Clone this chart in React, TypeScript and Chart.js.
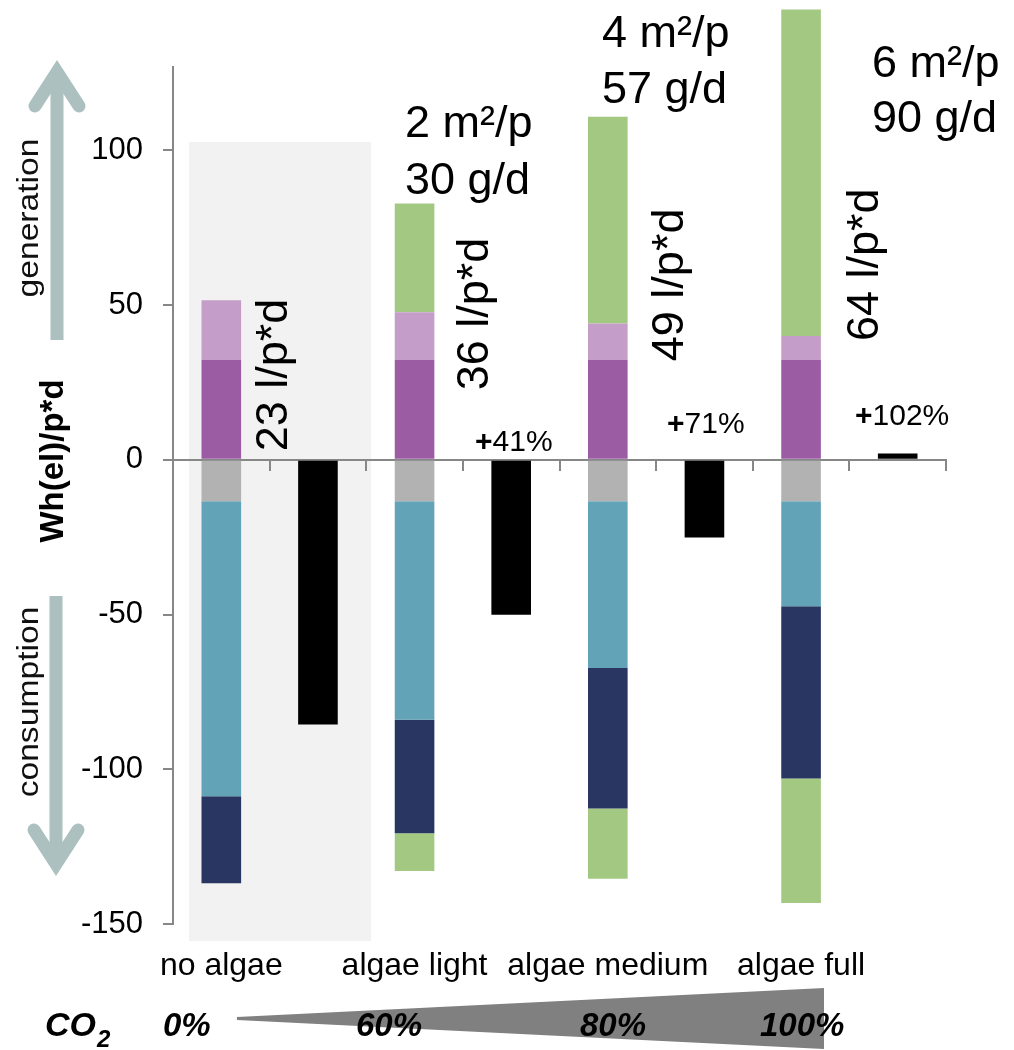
import React, { useEffect, useRef } from 'react';
import { Chart, registerables } from 'chart.js';

Chart.register(...registerables);

const FONT = "'Liberation Sans', Arial, Helvetica, sans-serif";

// ---------- data ----------
const categories = ['no algae', '', 'algae light', '', 'algae medium', '', 'algae full', ''];
const ownGeneration = [32.2, null, 32.2, null, 32.2, null, 32.2, null];
const extraGeneration = [19.3, null, 15.5, null, 11.8, null, 7.8, null];
const algaeGeneration = [null, null, 35.1, null, 66.8, null, 105.5, null];
const baseConsumption = [-13.4, null, -13.4, null, -13.4, null, -13.4, null];
const mainConsumption = [-95.3, null, -70.6, null, -53.9, null, -33.9, null];
const secondConsumption = [-28.1, null, -36.7, null, -45.4, null, -55.7, null];
const algaeConsumption = [null, null, -12.2, null, -22.7, null, -40.2, null];
const netBalance = [null, -85.5, null, -50.1, null, -25.1, null, 2.0];
const yTickValues = [-150, -100, -50, 0, 50, 100];
const waterLabels = ['23 l/p*d', '36 l/p*d', '49 l/p*d', '64 l/p*d'];
const areaLabels = [['2 m²/p', '30 g/d'], ['4 m²/p', '57 g/d'], ['6 m²/p', '90 g/d']];
const gainLabels = ['+41%', '+71%', '+102%'];
const co2Labels = ['0%', '60%', '80%', '100%'];

// ---------- layout of annotations (pixels / value positions) ----------
const waterPos = [
  { cat: 0, dx: 66, yVal: 27.4 },
  { cat: 2, dx: 73, yVal: 47.1 },
  { cat: 4, dx: 75, yVal: 56.5 },
  { cat: 6, dx: 77, yVal: 63.0 },
];
const areaPos = [
  { x: 405, y1: 137, y2: 194 },
  { x: 602, y1: 47, y2: 103 },
  { x: 872, y1: 77, y2: 132 },
];
const gainPos = [
  { x: 475, y: 451 },
  { x: 667, y: 433 },
  { x: 855, y: 425 },
];
const co2Pos = [163, 356, 580, 760];

const COLORS = {
  ownGen: '#9b5ca4',
  extraGen: '#c59dc9',
  algae: '#a3c882',
  base: '#b2b2b2',
  main: '#62a3b7',
  second: '#283661',
  net: '#000000',
  axis: '#878787',
  arrow: '#adc0c0',
  panel: '#f2f2f2',
};

function rotatedText(ctx: CanvasRenderingContext2D, text: string, x: number, y: number, font: string, stretch = 1, color = '#000') {
  ctx.save();
  ctx.translate(x, y);
  ctx.rotate(-Math.PI / 2);
  ctx.scale(stretch, 1);
  ctx.font = font;
  ctx.fillStyle = color;
  ctx.textAlign = 'center';
  ctx.textBaseline = 'alphabetic';
  ctx.fillText(text, 0, 0);
  ctx.restore();
}

function chevron(ctx: CanvasRenderingContext2D, x: number, tail: number, vertex: number, wingY: number, wingDx: number) {
  ctx.save();
  ctx.strokeStyle = COLORS.arrow;
  ctx.lineWidth = 13;
  ctx.lineCap = 'butt';
  ctx.beginPath();
  ctx.moveTo(x, tail);
  ctx.lineTo(x, vertex + (tail > vertex ? 4 : -4));
  ctx.stroke();
  ctx.lineCap = 'round';
  ctx.lineJoin = 'miter';
  ctx.beginPath();
  ctx.moveTo(x - wingDx, wingY);
  ctx.lineTo(x, vertex);
  ctx.lineTo(x + wingDx, wingY);
  ctx.stroke();
  ctx.restore();
}

const annotationPlugin = {
  id: 'annotations',
  beforeDraw(chart: any) {
    const { ctx } = chart;
    const xs = chart.scales.x;
    const ys = chart.scales.y;
    const l = xs.getPixelForValue(-0.335);
    const r = xs.getPixelForValue(1.55);
    const t = ys.getPixelForValue(102.7);
    const b = ys.getPixelForValue(-155.5);
    ctx.save();
    ctx.fillStyle = COLORS.panel;
    ctx.fillRect(l, t, r - l, b - t);
    ctx.restore();
  },
  afterDraw(chart: any) {
    const { ctx } = chart;
    const xs = chart.scales.x;
    const ys = chart.scales.y;

    // arrows + side labels
    chevron(ctx, 57, 340, 72, 106, 22);
    chevron(ctx, 56, 596, 864, 830, 22);
    rotatedText(ctx, 'generation', 38, 218, `29px ${FONT}`, 1.16, '#111');
    rotatedText(ctx, 'consumption', 38, 702, `29px ${FONT}`, 1.16, '#111');
    rotatedText(ctx, 'Wh(el)/p*d', 63, 461, `bold 33px ${FONT}`, 1, '#000');

    // water labels
    waterLabels.forEach((txt, i) => {
      const p = waterPos[i];
      rotatedText(ctx, txt, xs.getPixelForValue(p.cat) + p.dx, ys.getPixelForValue(p.yVal), `45px ${FONT}`);
    });

    // area labels
    ctx.save();
    ctx.font = `45px ${FONT}`;
    ctx.fillStyle = '#000';
    ctx.textAlign = 'left';
    ctx.textBaseline = 'alphabetic';
    areaLabels.forEach((lines, i) => {
      const p = areaPos[i];
      ctx.fillText(lines[0], p.x, p.y1);
      ctx.fillText(lines[1], p.x, p.y2);
    });
    ctx.restore();

    // gain labels
    ctx.save();
    ctx.fillStyle = '#000';
    ctx.textAlign = 'left';
    ctx.textBaseline = 'alphabetic';
    gainLabels.forEach((txt, i) => {
      const p = gainPos[i];
      ctx.font = `bold 30px ${FONT}`;
      ctx.fillText('+', p.x, p.y);
      const w = ctx.measureText('+').width;
      ctx.font = `30px ${FONT}`;
      ctx.fillText(txt.slice(1), p.x + w, p.y);
    });
    ctx.restore();

    // CO2 wedge
    ctx.save();
    ctx.fillStyle = '#808080';
    ctx.beginPath();
    ctx.moveTo(237, 1017);
    ctx.lineTo(824, 988);
    ctx.lineTo(824, 1049);
    ctx.lineTo(237, 1020);
    ctx.closePath();
    ctx.fill();
    ctx.fillStyle = '#000';
    ctx.textAlign = 'left';
    ctx.textBaseline = 'alphabetic';
    ctx.font = `italic bold 34px ${FONT}`;
    ctx.fillText('CO', 45, 1036);
    const coW = ctx.measureText('CO').width;
    ctx.font = `italic bold 24px ${FONT}`;
    ctx.fillText('2', 45 + coW + 1, 1047);
    ctx.font = `italic bold 33px ${FONT}`;
    co2Labels.forEach((txt, i) => ctx.fillText(txt, co2Pos[i], 1036));
    ctx.restore();
  },
};

export default function App() {
  const ref = useRef<HTMLCanvasElement>(null);
  useEffect(() => {
    document.body.style.margin = '0';
    Chart.defaults.font.family = FONT;
    const bar = { barPercentage: 0.41, categoryPercentage: 1.0, borderWidth: 0 };
    const chart = new Chart(ref.current as HTMLCanvasElement, {
      type: 'bar',
      data: {
        labels: categories,
        datasets: [
          { label: 'own generation', data: ownGeneration, backgroundColor: COLORS.ownGen, ...bar },
          { label: 'base consumption', data: baseConsumption, backgroundColor: COLORS.base, ...bar },
          { label: 'extra generation', data: extraGeneration, backgroundColor: COLORS.extraGen, ...bar },
          { label: 'main consumption', data: mainConsumption, backgroundColor: COLORS.main, ...bar },
          { label: 'algae generation', data: algaeGeneration, backgroundColor: COLORS.algae, clip: false, ...bar },
          { label: 'second consumption', data: secondConsumption, backgroundColor: COLORS.second, ...bar },
          { label: 'algae consumption', data: algaeConsumption, backgroundColor: COLORS.algae, ...bar },
          { label: 'net balance', data: netBalance, backgroundColor: COLORS.net, ...bar },
        ] as any,
      },
      options: {
        responsive: false,
        animation: false,
        devicePixelRatio: 1,
        layout: { padding: { left: 0, right: 68, top: 66.7, bottom: 56 } },
        plugins: { legend: { display: false }, tooltip: { enabled: false } },
        scales: {
          x: {
            axis: 'x',
            type: 'category',
            stacked: true,
            offset: true,
            position: { y: 0 } as any,
            grid: { display: true, offset: true, drawOnChartArea: false, drawTicks: true, tickLength: 10, color: COLORS.axis, lineWidth: 2 },
            border: { display: true, color: COLORS.axis, width: 2 },
            ticks: { display: false },
          },
          xb: {
            axis: 'x',
            type: 'category',
            position: 'bottom',
            offset: true,
            grid: { display: false, drawTicks: false },
            border: { display: false },
            ticks: { font: { size: 32, family: FONT }, color: '#000', padding: 23, autoSkip: false, maxRotation: 0, minRotation: 0 },
            afterFit: (axis: any) => { axis.height = 70; },
          },
          y: {
            stacked: true,
            min: -150,
            max: 127,
            afterBuildTicks: (axis: any) => { axis.ticks = yTickValues.map((v) => ({ value: v })); },
            afterFit: (axis: any) => { axis.width = 173; },
            grid: { display: true, drawOnChartArea: false, drawTicks: true, tickLength: 10, color: COLORS.axis, lineWidth: 2 },
            border: { display: true, color: COLORS.axis, width: 2 },
            ticks: { font: { size: 31, family: FONT }, color: '#000', padding: 20 },
          },
        } as any,
      },
      plugins: [annotationPlugin],
    } as any);
    return () => chart.destroy();
  }, []);
  return <canvas ref={ref} width={1014} height={1050} style={{ display: 'block' }} />;
}
